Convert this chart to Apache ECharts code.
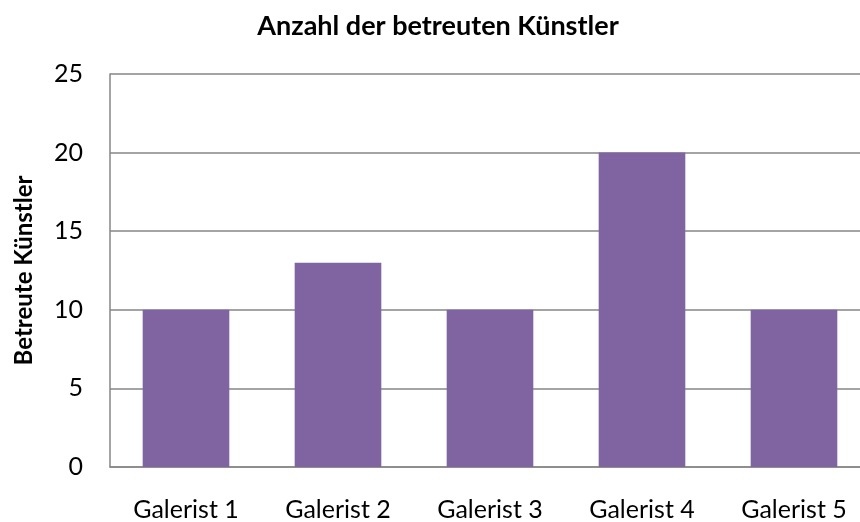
<!DOCTYPE html>
<html lang="de">
  <head>
    <meta charset="UTF-8" />
    <title>Anzahl der betreuten Künstler</title>
    <style>
      html, body { margin: 0; padding: 0; background: #fff; }
      #container { width: 860px; height: 522px; }
    </style>
    <script src="https://cdn.jsdelivr.net/npm/echarts@6/dist/echarts.min.js"></script>
  </head>
  <body>
    <div id="container"></div>
    <script>
      const categories = ['Galerist 1', 'Galerist 2', 'Galerist 3', 'Galerist 4', 'Galerist 5']
      const artistCounts = [10, 13, 10, 20, 10]

      const chart = echarts.init(document.getElementById('container'))
      const font = 'Lato, Calibri, sans-serif'
      const gridColor = '#868686'

      chart.setOption({
        animation: false,
        title: {
          text: 'Anzahl der betreuten Künstler',
          left: 433,
          textAlign: 'center',
          top: 8,
          textStyle: { fontFamily: font, fontSize: 27, fontWeight: 'bold', color: '#000' },
        },
        grid: { left: 110, top: 74, bottom: 55, right: -10, outerBoundsMode: 'none', containLabel: false },
        xAxis: {
          type: 'category',
          data: categories,
          axisLine: { lineStyle: { color: gridColor, width: 1.5 } },
          axisTick: { show: false },
          axisLabel: { fontFamily: font, fontSize: 25, color: '#000', margin: 30 },
        },
        yAxis: {
          type: 'value',
          min: 0,
          max: 25,
          interval: 5,
          name: 'Betreute Künstler',
          nameLocation: 'middle',
          nameGap: 74,
          nameTextStyle: { fontFamily: font, fontSize: 24, fontWeight: 'bold', color: '#000' },
          axisLine: { show: true, lineStyle: { color: gridColor, width: 1.5 } },
          axisTick: { show: false },
          axisLabel: { fontFamily: font, fontSize: 25, color: '#000', margin: 27 },
          splitLine: { lineStyle: { color: gridColor, width: 1.5 } },
        },
        series: [
          {
            type: 'bar',
            data: artistCounts,
            barWidth: '57%',
            itemStyle: { color: '#8064a2' },
          },
        ],
      })
    </script>
  </body>
</html>
